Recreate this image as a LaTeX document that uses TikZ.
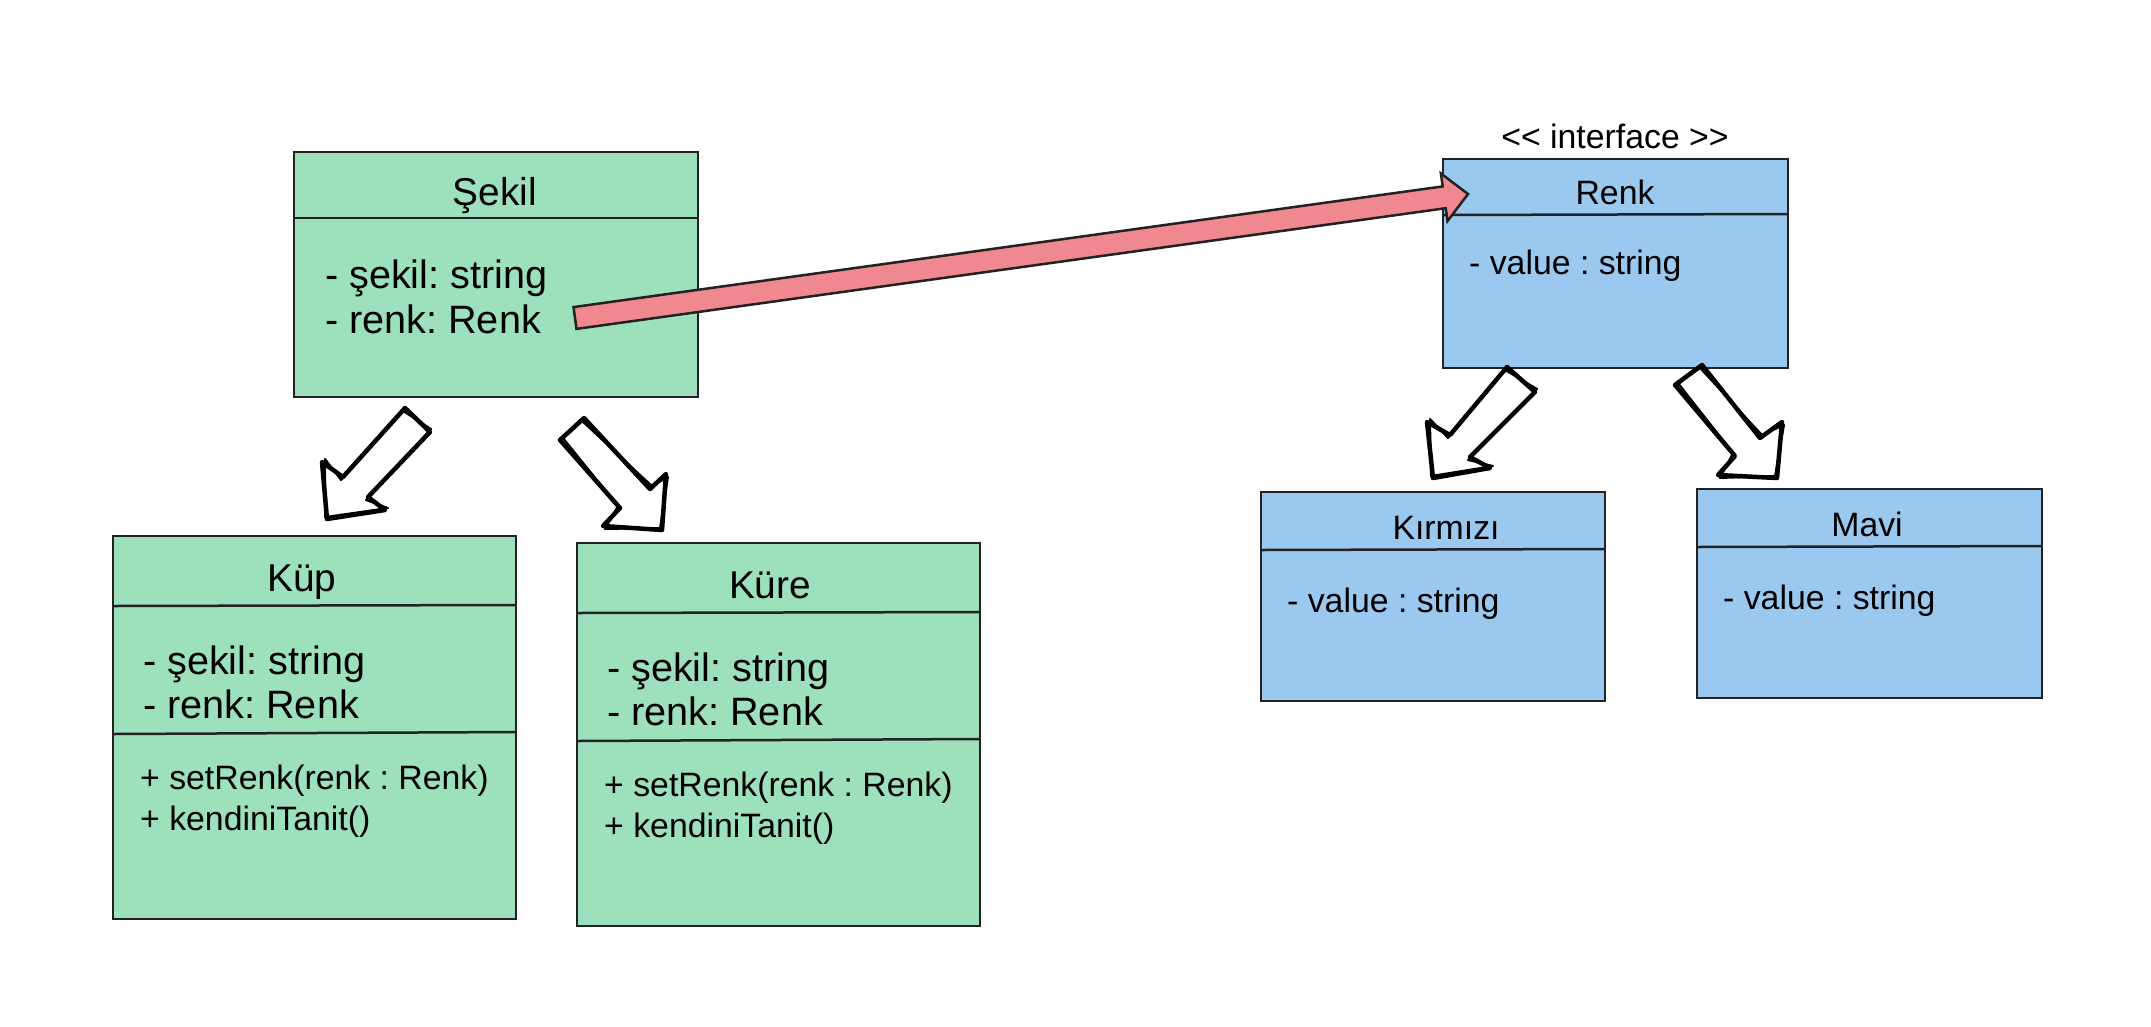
\documentclass[tikz,border=0pt]{standalone}
\usepackage{fontspec}
\setmainfont{Liberation Sans}[Ligatures=NoCommon]
\frenchspacing
\definecolor{gfill}{HTML}{9DE0BC}
\definecolor{bfill}{HTML}{9AC8EE}
\definecolor{rfill}{HTML}{F0888F}
\definecolor{edge}{HTML}{222222}
\tikzset{
 classbox/.style={draw=edge, line width=2.5pt, anchor=north west, inner sep=0pt, outer sep=0pt},
 greenbox/.style={classbox, fill=gfill},
 bluebox/.style={classbox, fill=bfill},
 divider/.style={draw=edge, line width=2.5pt},
 bigtxt/.style={font=\fontsize{39.6}{45}\selectfont, inner sep=0pt, anchor=base west},
 bigtitle/.style={font=\fontsize{38.8}{45}\selectfont, inner sep=0pt, anchor=base},
 methtxt/.style={font=\fontsize{33.8}{40}\selectfont, inner sep=0pt, anchor=base west},
 medtxt/.style={font=\fontsize{33.8}{40}\selectfont, inner sep=0pt, anchor=base west},
 medtitle/.style={font=\fontsize{33.8}{40}\selectfont, inner sep=0pt, anchor=base},
 hollow/.style={draw=black, line width=4.5pt, fill=white, line join=round},
 sketch/.style={draw=black, line width=2pt, line join=round},
 redarrow/.style={draw=edge, line width=2.5pt, fill=rfill, line join=miter},
}
\begin{document}
\begin{tikzpicture}[x=1pt, y=-1pt]
\useasboundingbox (0,0) rectangle (2151,1026);
\fill[white] (0,0) rectangle (2151,1026);

% ---------- Sekil ----------
\node[greenbox, minimum width=404pt, minimum height=245pt] (sekil) at (294,152) {};
\draw[divider] (sekil.west |- 0,218) -- (sekil.east |- 0,218);
\node[bigtitle] (sekilT) at (495,205) {Şekil};
\node[bigtxt] (sekilA1) at (325,288) {- şekil: string};
\node[bigtxt] (sekilA2) at (325,333) {- renk: Renk};

% ---------- Kup ----------
\node[greenbox, minimum width=403pt, minimum height=383pt] (kup) at (113,536) {};
\draw[divider] (kup.west |- 0,606) -- (kup.east |- 0,605);
\draw[divider] (kup.west |- 0,734) -- (kup.east |- 0,732);
\node[bigtitle] (kupT) at (302,591) {Küp};
\node[bigtxt] (kupA1) at (143,674) {- şekil: string};
\node[bigtxt] (kupA2) at (143,718) {- renk: Renk};
\node[methtxt] (kupM1) at (140,789) {+ setRenk(renk : Renk)};
\node[methtxt] (kupM2) at (140,830) {+ kendiniTanit()};

% ---------- Kure ----------
\node[greenbox, minimum width=403pt, minimum height=383pt] (kure) at (577,543) {};
\draw[divider] (kure.west |- 0,613) -- (kure.east |- 0,612);
\draw[divider] (kure.west |- 0,741) -- (kure.east |- 0,739);
\node[bigtitle] (kureT) at (770,598) {Küre};
\node[bigtxt] (kureA1) at (607,681) {- şekil: string};
\node[bigtxt] (kureA2) at (607,725) {- renk: Renk};
\node[methtxt] (kureM1) at (604,796) {+ setRenk(renk : Renk)};
\node[methtxt] (kureM2) at (604,837) {+ kendiniTanit()};

% ---------- Renk ----------
\node[medtitle] (iface) at (1615,148) {{<}{<} interface {>}{>}};
\node[bluebox, minimum width=345pt, minimum height=209pt] (renk) at (1443,159) {};
\draw[divider] (renk.west |- 0,215) -- (renk.east |- 0,214);
\node[medtitle] (renkT) at (1615,204) {Renk};
\node[medtxt] (renkA) at (1469,274) {- value : string};

% ---------- Kirmizi ----------
\node[bluebox, minimum width=344pt, minimum height=209pt] (kirmizi) at (1261,492) {};
\draw[divider] (kirmizi.west |- 0,550) -- (kirmizi.east |- 0,549);
\node[medtitle] (kirmiziT) at (1446,539) {Kırmızı};
\node[medtxt] (kirmiziA) at (1287,612) {- value : string};

% ---------- Mavi ----------
\node[bluebox, minimum width=345pt, minimum height=209pt] (mavi) at (1697,489) {};
\draw[divider] (mavi.west |- 0,547) -- (mavi.east |- 0,546);
\node[medtitle] (maviT) at (1867,536) {Mavi};
\node[medtxt] (maviA) at (1723,609) {- value : string};

% ---------- red association arrow ----------
\coordinate (redTail) at (575,318);
\coordinate (redTip) at (1468,194);
\draw[redarrow] (573.5,307.1) -- (1442.7,186.4) -- (1440.9,173.5) -- (redTip)
  -- (1447.5,221.1) -- (1445.7,208.2) -- (576.5,328.9) -- cycle;

% ---------- hollow sketch arrows ----------
\draw[hollow] (405,408) -- (430,432) -- (368,497) -- (385,510) -- (327,519)
  -- (322,462) -- (343,477) -- cycle;
\draw[sketch] (403,411) -- (431,429) -- (366,500) -- (388,508) -- (325,517)
  -- (325,459) -- (341,480) -- cycle;
\draw[hollow] (560,440) -- (584,418) -- (650,489) -- (666,474) -- (662,530)
  -- (603,526) -- (620,508) -- cycle;
\draw[sketch] (563,438) -- (582,421) -- (652,486) -- (668,477) -- (660,528)
  -- (605,529) -- (618,506) -- cycle;
\draw[hollow] (1507,367) -- (1535,392) -- (1470,457) -- (1490,468) -- (1433,478)
  -- (1427,422) -- (1450,435) -- cycle;
\draw[sketch] (1505,370) -- (1537,389) -- (1468,460) -- (1493,466) -- (1431,476)
  -- (1430,419) -- (1448,438) -- cycle;
\draw[hollow] (1675,385) -- (1702,365) -- (1760,438) -- (1782,422) -- (1777,478)
  -- (1718,475) -- (1735,456) -- cycle;
\draw[sketch] (1678,383) -- (1700,368) -- (1762,435) -- (1784,425) -- (1775,476)
  -- (1720,478) -- (1733,453) -- cycle;
\end{tikzpicture}
\end{document}
